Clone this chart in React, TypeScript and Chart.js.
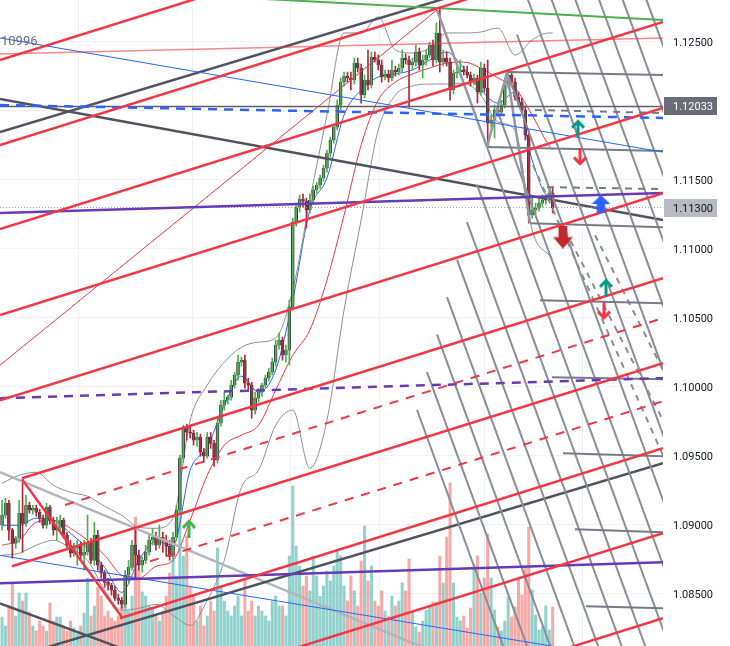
import React, { useEffect, useRef } from "react";
import { Chart, registerables } from "chart.js";

Chart.register(...registerables);

// ---------- axes ----------
const X_MIN = -0.6;
const X_MAX = 193.26;
const Y_MIN = 1.08123;
const Y_MAX = 1.12804;
const priceTicks = [1.085, 1.09, 1.095, 1.1, 1.105, 1.11, 1.115, 1.12, 1.125];
const hiddenTickLabels = [1.12];
const timeGridIdx = [22.21, 55.83, 84.2, 110.51, 141.21, 169.58];

// ---------- OHLC ----------
const opens = [
  1.08998, 1.09071, 1.09157, 1.08962, 1.08867, 1.08904, 1.09085, 1.09012, 1.09143, 1.09107,
  1.09121, 1.09092, 1.09049, 1.08998, 1.09128, 1.09034, 1.08962, 1.08983, 1.09034, 1.08926,
  1.08853, 1.08795, 1.08831, 1.08853, 1.08781, 1.08802, 1.08874, 1.08744, 1.08926, 1.08708,
  1.0865, 1.08584, 1.08563, 1.08527, 1.08469, 1.08454, 1.08425, 1.08636, 1.08693, 1.08853,
  1.08781, 1.08708, 1.08744, 1.08802, 1.08889, 1.08911, 1.08853, 1.08911, 1.08889, 1.08845,
  1.08773, 1.08911, 1.09107, 1.09484, 1.09701, 1.09672, 1.09665, 1.09614, 1.09636, 1.09527,
  1.09498, 1.09636, 1.09592, 1.09469, 1.09737, 1.09868, 1.09904, 1.09926, 1.10013, 1.10086,
  1.10179, 1.10194, 1.10027, 1.10013, 1.09832, 1.09919, 1.09962, 1.10013, 1.10064, 1.10107,
  1.10179, 1.10303, 1.10339, 1.10231, 1.10267, 1.10578, 1.11194, 1.11303, 1.11362, 1.11347,
  1.11282, 1.11354, 1.11427, 1.11463, 1.11514, 1.11586, 1.11695, 1.11789, 1.11883, 1.12043,
  1.12209, 1.12253, 1.12239, 1.12224, 1.12347, 1.12311, 1.12116, 1.12224, 1.12188, 1.12391,
  1.12369, 1.12333, 1.12246, 1.12268, 1.12239, 1.12297, 1.12282, 1.12311, 1.12384, 1.12369,
  1.12333, 1.12354, 1.12427, 1.12333, 1.12369, 1.12405, 1.12478, 1.12369, 1.12565, 1.12354,
  1.12384, 1.12354, 1.12152, 1.12275, 1.12282, 1.12297, 1.12282, 1.1226, 1.12209, 1.12239,
  1.12137, 1.12311, 1.12166, 1.11912, 1.11934, 1.12007, 1.11992, 1.12043, 1.12188, 1.1226,
  1.12209, 1.12101, 1.12064, 1.12007, 1.11825, 1.11245, 1.11282, 1.11296, 1.11332, 1.11354,
  1.11376, 1.11405,
];
const highs = [
  1.09179, 1.09194, 1.09179, 1.08976, 1.08918, 1.09179, 1.09332, 1.09216, 1.09164, 1.09143,
  1.09143, 1.09114, 1.09071, 1.09157, 1.09143, 1.09056, 1.09056, 1.09071, 1.09049, 1.08947,
  1.08889, 1.08867, 1.08889, 1.08874, 1.08889, 1.09071, 1.08904, 1.09019, 1.08962, 1.08729,
  1.08672, 1.08614, 1.08577, 1.08555, 1.08498, 1.08476, 1.08672, 1.08744, 1.08889, 1.08983,
  1.08817, 1.08766, 1.08853, 1.08926, 1.08976, 1.08947, 1.08998, 1.08947, 1.08926, 1.08889,
  1.08947, 1.09143, 1.09506, 1.09723, 1.0973, 1.09715, 1.09687, 1.09672, 1.09658, 1.09556,
  1.09672, 1.09672, 1.09614, 1.09774, 1.09904, 1.09962, 1.09941, 1.10049, 1.10107, 1.10231,
  1.10216, 1.10231, 1.10064, 1.10034, 1.09962, 1.09991, 1.10027, 1.10086, 1.10136, 1.10209,
  1.10339, 1.1039, 1.10361, 1.10303, 1.10629, 1.11224, 1.11332, 1.11391, 1.11398, 1.11369,
  1.11398, 1.11455, 1.11484, 1.11536, 1.11608, 1.11717, 1.11811, 1.11905, 1.12079, 1.12239,
  1.12282, 1.12282, 1.12282, 1.12384, 1.12384, 1.1234, 1.12261, 1.12442, 1.12427, 1.12427,
  1.12406, 1.12369, 1.12297, 1.12297, 1.12369, 1.12325, 1.1234, 1.12442, 1.12413, 1.12398,
  1.12384, 1.12478, 1.12456, 1.12405, 1.12442, 1.12499, 1.12514, 1.12637, 1.12753, 1.12442,
  1.12427, 1.12384, 1.12297, 1.12333, 1.12369, 1.12325, 1.12325, 1.12282, 1.12268, 1.1226,
  1.12354, 1.1234, 1.12369, 1.11971, 1.12043, 1.1205, 1.12079, 1.12209, 1.12282, 1.12282,
  1.12239, 1.12137, 1.12094, 1.12036, 1.11862, 1.11369, 1.11332, 1.11369, 1.11391, 1.11398,
  1.11455, 1.11448,
];
const lows = [
  1.08962, 1.09049, 1.08889, 1.08759, 1.08831, 1.08874, 1.08802, 1.0899, 1.09085, 1.09078,
  1.09063, 1.09019, 1.08976, 1.08976, 1.09005, 1.08926, 1.08889, 1.08962, 1.08904, 1.08838,
  1.08766, 1.08773, 1.08708, 1.08744, 1.08672, 1.08781, 1.08722, 1.08708, 1.08672, 1.08614,
  1.08548, 1.08527, 1.08491, 1.08454, 1.08425, 1.08396, 1.08403, 1.08577, 1.08672, 1.08621,
  1.08672, 1.08657, 1.08722, 1.08781, 1.08853, 1.08817, 1.08831, 1.08802, 1.08773, 1.08744,
  1.08744, 1.08889, 1.09085, 1.09454, 1.09614, 1.09629, 1.09578, 1.0957, 1.09498, 1.09454,
  1.09484, 1.09556, 1.09425, 1.09447, 1.09715, 1.09832, 1.09875, 1.09904, 1.09991, 1.10049,
  1.1015, 1.09991, 1.09977, 1.09774, 1.09803, 1.09889, 1.09933, 1.09991, 1.10042, 1.10086,
  1.1015, 1.10274, 1.10194, 1.10179, 1.10158, 1.10557, 1.11165, 1.11267, 1.11303, 1.11151,
  1.1126, 1.11332, 1.11405, 1.11441, 1.11492, 1.11557, 1.11666, 1.11767, 1.11862, 1.12007,
  1.1218, 1.12209, 1.12152, 1.12195, 1.12282, 1.12057, 1.12094, 1.12152, 1.12166, 1.12354,
  1.12297, 1.12209, 1.12224, 1.12209, 1.12217, 1.12253, 1.1226, 1.12282, 1.1234, 1.12028,
  1.12297, 1.12325, 1.12297, 1.12239, 1.12333, 1.12384, 1.12325, 1.12347, 1.12282, 1.12325,
  1.12325, 1.12079, 1.12123, 1.12239, 1.1226, 1.1226, 1.12239, 1.1218, 1.12188, 1.12057,
  1.12115, 1.12137, 1.11738, 1.11883, 1.11804, 1.11963, 1.1197, 1.12021, 1.12166, 1.1218,
  1.12079, 1.12036, 1.11978, 1.11789, 1.11187, 1.11224, 1.11253, 1.11275, 1.11303, 1.11325,
  1.11354, 1.1126,
];
const closes = [
  1.09071, 1.09157, 1.08962, 1.08867, 1.08904, 1.09085, 1.09012, 1.09143, 1.09107, 1.09121,
  1.09092, 1.09049, 1.08998, 1.09128, 1.09034, 1.08962, 1.08983, 1.09034, 1.08926, 1.08853,
  1.08795, 1.08831, 1.08853, 1.08781, 1.08802, 1.08874, 1.08744, 1.08926, 1.08708, 1.0865,
  1.08584, 1.08563, 1.08527, 1.08469, 1.08454, 1.08425, 1.08636, 1.08693, 1.08853, 1.08781,
  1.08708, 1.08744, 1.08802, 1.08889, 1.08911, 1.08853, 1.08911, 1.08889, 1.08845, 1.08773,
  1.08911, 1.09107, 1.09484, 1.09701, 1.09672, 1.09665, 1.09614, 1.09636, 1.09527, 1.09498,
  1.09636, 1.09592, 1.09469, 1.09737, 1.09868, 1.09904, 1.09926, 1.10013, 1.10086, 1.10179,
  1.10194, 1.10027, 1.10013, 1.09832, 1.09919, 1.09962, 1.10013, 1.10064, 1.10107, 1.10179,
  1.10303, 1.10339, 1.10231, 1.10267, 1.10578, 1.11194, 1.11303, 1.11362, 1.11347, 1.11282,
  1.11354, 1.11427, 1.11463, 1.11514, 1.11586, 1.11695, 1.11789, 1.11883, 1.12043, 1.12209,
  1.12253, 1.12239, 1.12224, 1.12347, 1.12311, 1.12116, 1.12224, 1.12188, 1.12391, 1.12369,
  1.12333, 1.12246, 1.12268, 1.12239, 1.12297, 1.12282, 1.12311, 1.12384, 1.12369, 1.12333,
  1.12354, 1.12427, 1.12333, 1.12369, 1.12405, 1.12478, 1.12369, 1.12565, 1.12354, 1.12384,
  1.12354, 1.12152, 1.12275, 1.12282, 1.12297, 1.12282, 1.1226, 1.12209, 1.12239, 1.12137,
  1.12311, 1.12166, 1.11912, 1.11934, 1.12007, 1.11992, 1.12043, 1.12188, 1.1226, 1.12209,
  1.12101, 1.12064, 1.12007, 1.11825, 1.11245, 1.11282, 1.11296, 1.11332, 1.11354, 1.11376,
  1.11405, 1.113,
];
const volumes = [
  29, 20, 40, 63, 30, 53, 45, 53, 34, 20,
  15, 25, 20, 15, 43, 25, 29, 29, 20, 15,
  25, 18, 12, 20, 33, 68, 30, 40, 59, 50,
  30, 35, 28, 25, 30, 40, 46, 35, 50, 129,
  76, 54, 50, 40, 38, 30, 25, 35, 50, 73,
  86, 70, 164, 90, 110, 60, 50, 25, 40, 20,
  30, 45, 35, 98, 60, 45, 35, 30, 40, 50,
  30, 68, 35, 45, 30, 40, 35, 30, 25, 45,
  50, 40, 40, 30, 90, 160, 100, 80, 60, 70,
  55, 90, 70, 50, 60, 75, 65, 80, 95, 90,
  60, 45, 70, 55, 40, 85, 120, 65, 80, 45,
  40, 55, 35, 30, 50, 40, 45, 63, 55, 87,
  35, 19, 14, 25, 36, 41, 44, 44, 90, 63,
  109, 163, 63, 29, 25, 30, 18, 38, 81, 90,
  53, 68, 112, 68, 36, 19, 15, 25, 49, 29,
  39, 68, 51, 79, 119, 56, 31, 16, 19, 40,
  16, 39,
];
const VOL_MAX = 646;

// ---------- indicators (sampled every 5 bars) ----------
const indIdx = [0, 5, 10, 15, 20, 25, 30, 35, 40, 45, 50, 55, 60, 65, 70, 75, 80, 85, 90, 95, 100, 105, 110, 115, 120, 125, 130, 135, 140, 145, 150, 155, 160, 161];
const maFast = [1.08998, 1.08998, 1.09049, 1.09034, 1.0894, 1.08831, 1.08693, 1.08512, 1.08744, 1.08882, 1.08853, 1.09397, 1.09563, 1.09868, 1.10078, 1.09962, 1.10122, 1.10629, 1.11282, 1.11514, 1.1197, 1.12152, 1.12246, 1.12268, 1.12297, 1.12369, 1.12427, 1.12311, 1.12152, 1.12057, 1.12137, 1.11644, 1.11376, 1.11383];
const maSlow = [1.08853, 1.08889, 1.0902, 1.09034, 1.08976, 1.08889, 1.08781, 1.08636, 1.08614, 1.08701, 1.08744, 1.09034, 1.0936, 1.09578, 1.09651, 1.09723, 1.09977, 1.1023, 1.10412, 1.10774, 1.11245, 1.11753, 1.12079, 1.12209, 1.12268, 1.12311, 1.12347, 1.12354, 1.12311, 1.12239, 1.12166, 1.1197, 1.11746, 1.11717];
const bbUpper = [1.09302, 1.0936, 1.09382, 1.09288, 1.09237, 1.09208, 1.09136, 1.0907, 1.08983, 1.08976, 1.09049, 1.09759, 1.10013, 1.1018, 1.10288, 1.10325, 1.10354, 1.10702, 1.11354, 1.1197, 1.12565, 1.12565, 1.12681, 1.12442, 1.1242, 1.12456, 1.12565, 1.12565, 1.12572, 1.12601, 1.12405, 1.12514, 1.12565, 1.12565];
const bbLower = [1.08781, 1.08795, 1.08853, 1.08889, 1.08831, 1.08744, 1.08527, 1.08382, 1.08396, 1.08425, 1.08345, 1.08273, 1.08454, 1.08744, 1.09273, 1.09397, 1.09723, 1.09832, 1.09411, 1.09759, 1.10557, 1.11209, 1.11862, 1.12115, 1.12181, 1.12195, 1.12195, 1.12202, 1.12115, 1.1192, 1.11862, 1.11137, 1.10955, 1.10933];

// ---------- drawings: [barIndex1, price1, barIndex2, price2] ----------
const redChannel = [
  [-0.6, 1.12369, 193.26, 1.1387],
  [-0.6, 1.11753, 193.26, 1.13254],
  [-0.6, 1.11144, 193.26, 1.12645],
  [-0.6, 1.10521, 193.26, 1.12021],
  [-0.6, 1.09904, 193.26, 1.11405],
  [5.83, 1.09339, 193.26, 1.10789],
  [2.91, 1.08701, 193.26, 1.10172],
  [34.49, 1.08324, 193.26, 1.09556],
  [-0.6, 1.07439, 193.26, 1.0894],
  [-0.6, 1.06823, 193.26, 1.08324],
  [5.83, 1.09331, 35.07, 1.08331],
];
const redChannelDashed = [
  [18.41, 1.09145, 193.26, 1.10499],
  [43.26, 1.08737, 193.26, 1.09897],
];
const redThin = [[-0.6, 1.10158, 127.18, 1.12732]];
const pinkThin = [[-0.6, 1.12413, 193.26, 1.12529]];
const darkGrayLines = [
  [-0.6, 1.11847, 139.75, 1.12891],
  [-0.6, 1.12086, 193.26, 1.11209],
  [-0.6, 1.08012, 193.26, 1.09447],
  [-0.6, 1.08432, 43.26, 1.0803],
];
const lightGrayLines = [[-0.6, 1.09382, 125.13, 1.08092]];
const greenLines = [[72.5, 1.12817, 193.26, 1.12659]];
const blueThin = [
  [-0.6, 1.12529, 193.26, 1.11702],
  [-0.6, 1.0878, 193.26, 1.0799],
];
const blueDashed = [[-0.6, 1.12043, 193.26, 1.11949]];
const purpleLines = [
  [-0.6, 1.1126, 193.26, 1.11405],
  [-0.6, 1.08577, 193.26, 1.0873],
];
const purpleDashed = [[-0.6, 1.09919, 193.26, 1.10064]];
const lastPriceLevel = 1.12033;
const currentPrice = 1.113;
const zigzag = [
  [127.18, 1.12732, 141.8, 1.11738],
  [141.8, 1.11738, 147.65, 1.12282],
  [147.65, 1.12282, 154.37, 1.11187],
];
const fanLines = [
  [168.11, 1.14185, 263.14, 1.07729],
  [165.19, 1.13913, 256.13, 1.07729],
  [162.27, 1.13641, 249.4, 1.07729],
  [159.34, 1.1337, 242.38, 1.07729],
  [156.42, 1.13098, 235.36, 1.07729],
  [153.49, 1.12826, 228.64, 1.07729],
  [150.57, 1.12554, 221.62, 1.07729],
  [147.65, 1.12282, 214.6, 1.07729],
  [144.72, 1.1201, 207.7, 1.07729],
  [141.8, 1.11738, 200.86, 1.07729],
  [138.87, 1.11466, 193.84, 1.07729],
  [135.95, 1.11194, 186.97, 1.07729],
  [133.02, 1.10923, 180.1, 1.07729],
  [130.1, 1.10651, 173.08, 1.07729],
  [127.18, 1.10379, 166.06, 1.07729],
  [124.25, 1.10107, 159.34, 1.07729],
  [121.33, 1.09835, 152.32, 1.07729],
];
const fanDashed = [
  [155.25, 1.11608, 193.26, 1.09505],
  [164.6, 1.11137, 193.26, 1.09759],
  [173.4, 1.111, 193.26, 1.10122],
];
const grayLevels = [
  [147.65, 1.12282, 193.26, 1.1226],
  [141.8, 1.11738, 193.26, 1.11709],
  [154.37, 1.11187, 193.26, 1.11158],
  [157.29, 1.10629, 193.26, 1.10607],
  [160.8, 1.10071, 193.26, 1.10056],
  [164.02, 1.0952, 193.26, 1.09498],
  [167.53, 1.08969, 193.26, 1.08947],
  [170.74, 1.08411, 193.26, 1.08396],
];
const grayLevelsDashed = [
  [155.83, 1.12007, 193.26, 1.11985],
  [159.34, 1.11448, 193.26, 1.11434],
];

// ---------- markers ----------
const arrowIdx = [54.66, 168.4, 169.0, 175.1, 164.0, 176.6, 176.0];
const arrowPrice = [1.08976, 1.11876, 1.11666, 1.11325, 1.11086, 1.10723, 1.10549];
const arrowKind = ["upGreen", "upTeal", "downRed", "upBlue", "downBlock", "upTeal", "downRed"];

const priceBoxes = [
  { value: 1.12033, bg: "#6a6d78", fg: "#ffffff" },
  { value: 1.113, bg: "#b8bbc3", fg: "#131722" },
];
const cornerLabel = { text: "10996", price: 1.12504 };

function makeArrow(dir: string, color: string, w: number, h: number, filled: boolean) {
  const c = document.createElement("canvas");
  c.width = w;
  c.height = h;
  const g = c.getContext("2d") as CanvasRenderingContext2D;
  if (dir === "down") {
    g.translate(0, h);
    g.scale(1, -1);
  }
  g.strokeStyle = color;
  g.fillStyle = color;
  if (filled) {
    g.beginPath();
    g.moveTo(w / 2, 0);
    g.lineTo(w, h * 0.5);
    g.lineTo(w * 0.72, h * 0.5);
    g.lineTo(w * 0.72, h);
    g.lineTo(w * 0.28, h);
    g.lineTo(w * 0.28, h * 0.5);
    g.lineTo(0, h * 0.5);
    g.closePath();
    g.fill();
  } else {
    g.lineWidth = 3;
    g.lineJoin = "miter";
    g.beginPath();
    g.moveTo(w / 2, h);
    g.lineTo(w / 2, 3);
    g.stroke();
    g.beginPath();
    g.moveTo(2, h * 0.48);
    g.lineTo(w / 2, 2.5);
    g.lineTo(w - 2, h * 0.48);
    g.stroke();
  }
  return c;
}

const seg = (r: number[]) => [
  { x: r[0], y: r[1] },
  { x: r[2], y: r[3] },
];

function lineSets(rows: number[][], color: string, width: number, dash: number[], order: number) {
  return rows.map((r) => ({
    type: "line",
    data: seg(r),
    borderColor: color,
    borderWidth: width,
    borderDash: dash,
    pointRadius: 0,
    pointHoverRadius: 0,
    fill: false,
    tension: 0,
    order,
  }));
}

const overlayPlugin = {
  id: "overlay",
  afterDraw(chart: any) {
    const { ctx, chartArea, scales } = chart;
    const y = scales.y;
    ctx.save();
    ctx.textBaseline = "middle";
    ctx.textAlign = "left";
    ctx.font = "11px Roboto";
    ctx.fillStyle = "#131722";
    y.ticks.forEach((t: any) => {
      if (hiddenTickLabels.some((h) => Math.abs(h - t.value) < 1e-6)) return;
      ctx.fillText(Number(t.value).toFixed(5), chartArea.right + 10, y.getPixelForValue(t.value) + 1);
    });
    priceBoxes.forEach((b) => {
      const py = Math.round(y.getPixelForValue(b.value));
      ctx.fillStyle = b.bg;
      ctx.fillRect(chartArea.right + 1, py - 9, 53, 18);
      ctx.fillStyle = b.fg;
      ctx.fillText(b.value.toFixed(5), chartArea.right + 10, py + 1);
    });
    ctx.fillStyle = "#6a6d78";
    ctx.font = "13px Roboto";
    ctx.fillText(cornerLabel.text, chartArea.left + 1, y.getPixelForValue(cornerLabel.price));
    ctx.restore();
  },
};

export default function App() {
  const ref = useRef<HTMLCanvasElement>(null);

  useEffect(() => {
    const canvas = ref.current;
    if (!canvas) return;
    const up = closes.map((c, i) => c >= opens[i]);

    const arrowImgs: any = {
      upGreen: makeArrow("up", "#4caf50", 16, 19, false),
      upTeal: makeArrow("up", "#089981", 16, 18, false),
      downRed: makeArrow("down", "#f23645", 16, 18, false),
      upBlue: makeArrow("up", "#2962ff", 19, 18, true),
      downBlock: makeArrow("down", "#c62832", 20, 23, true),
    };

    const ind = (vals: number[], color: string, w: number) => ({
      type: "line",
      data: indIdx.map((x, k) => ({ x, y: vals[k] })),
      borderColor: color,
      borderWidth: w,
      pointRadius: 0,
      pointHoverRadius: 0,
      fill: false,
      cubicInterpolationMode: "monotone",
      order: 60,
    });

    const datasets: any[] = [
      {
        type: "bar",
        yAxisID: "yv",
        data: volumes.map((v, i) => ({ x: i, y: v })),
        backgroundColor: up.map((u) => (u ? "rgba(38,166,154,0.5)" : "rgba(239,83,80,0.5)")),
        barThickness: 2.4,
        grouped: false,
        order: 100,
      },
      ind(bbUpper, "#8d8f96", 1),
      ind(bbLower, "#8d8f96", 1),
      ind(maSlow, "#f23645", 1),
      ind(maFast, "#2962ff", 1),
      {
        type: "bar",
        data: opens.map((o, i) => ({ x: i, y: [o, closes[i]] })),
        backgroundColor: "#606268",
        borderColor: "#3a3b40",
        borderWidth: 1,
        borderSkipped: false,
        barThickness: 3,
        minBarLength: 1,
        grouped: false,
        order: 45,
      },
      {
        type: "bar",
        data: lows.map((l, i) => ({ x: i, y: [l, highs[i]] })),
        backgroundColor: up.map((u) => (u ? "#4caf50" : "#b2283a")),
        barThickness: 1,
        grouped: false,
        order: 44,
      },
      ...lineSets(lightGrayLines, "#b2b5be", 2.5, [], 30),
      ...lineSets(darkGrayLines, "#50535e", 2.5, [], 29),
      ...lineSets(fanLines, "#8a8d96", 2, [], 28),
      ...lineSets(fanDashed, "#8a8d96", 2, [6, 6], 28),
      ...lineSets(grayLevels, "#787b86", 2, [], 27),
      ...lineSets(grayLevelsDashed, "#787b86", 2, [7, 6], 27),
      ...lineSets(zigzag, "#9598a1", 2.5, [], 26),
      ...lineSets(pinkThin, "rgba(242,54,69,0.6)", 1.5, [], 25),
      ...lineSets(redThin, "#f23645", 1, [], 25),
      ...lineSets(blueThin, "#2962ff", 1, [], 24),
      ...lineSets([[X_MIN, lastPriceLevel, X_MAX, lastPriceLevel]], "#5d606b", 1.5, [], 24),
      ...lineSets([[X_MIN, currentPrice, X_MAX, currentPrice]], "#9598a1", 1, [1, 2], 24),
      ...lineSets(blueDashed, "#2962ff", 2.5, [9, 7], 23),
      ...lineSets(purpleLines, "#673ab7", 2.5, [], 22),
      ...lineSets(purpleDashed, "#673ab7", 2.5, [9, 7], 22),
      ...lineSets(redChannelDashed, "#f23645", 2, [9, 8], 21),
      ...lineSets(redChannel, "#f23645", 2.5, [], 20),
      ...lineSets(greenLines, "#4caf50", 2, [], 20),
      {
        type: "line",
        showLine: false,
        data: arrowIdx.map((x, k) => ({ x, y: arrowPrice[k] })),
        pointStyle: arrowKind.map((k) => arrowImgs[k]),
        pointRadius: 10,
        pointHoverRadius: 10,
        order: 0,
      },
    ];

    const chart = new Chart(canvas, {
      type: "bar",
      data: { datasets },
      options: {
        animation: false,
        responsive: false,
        maintainAspectRatio: false,
        events: [],
        layout: { padding: 0, autoPadding: false },
        plugins: { legend: { display: false }, tooltip: { enabled: false } },
        scales: {
          x: {
            type: "linear",
            min: X_MIN,
            max: X_MAX,
            offset: false,
            grid: { color: "#eef0f4", drawTicks: false, offset: false },
            border: { display: false },
            ticks: { display: false },
            afterBuildTicks: (s: any) => {
              s.ticks = timeGridIdx.map((v) => ({ value: v }));
            },
          },
          y: {
            type: "linear",
            position: "right",
            min: Y_MIN,
            max: Y_MAX,
            beginAtZero: false,
            grid: { color: "#f0f2f5", drawTicks: false },
            border: { display: false },
            ticks: { display: false },
            afterBuildTicks: (s: any) => {
              s.ticks = priceTicks.map((v) => ({ value: v }));
            },
            afterFit: (s: any) => {
              s.width = 67;
            },
          },
          yv: { type: "linear", display: false, min: 0, max: VOL_MAX },
        },
      } as any,
      plugins: [overlayPlugin],
    } as any);

    return () => chart.destroy();
  }, []);

  return (
    <div style={{ position: "fixed", left: 0, top: 0, width: 730, height: 646, background: "#ffffff" }}>
      <canvas ref={ref} width={730} height={646} style={{ display: "block", width: 730, height: 646 }} />
    </div>
  );
}
